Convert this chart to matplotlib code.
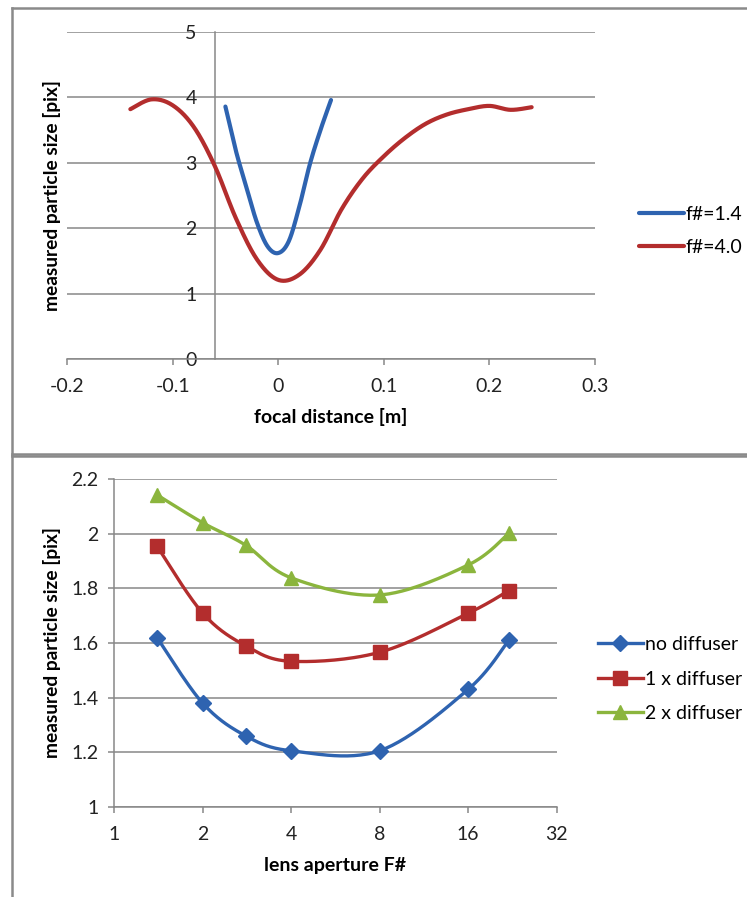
import numpy as np
import matplotlib
matplotlib.use("Agg")
import matplotlib.pyplot as plt
from matplotlib.lines import Line2D
from matplotlib.ticker import FixedLocator, FuncFormatter

plt.rcParams['font.family'] = ['Lato', 'DejaVu Sans']

# ---- focal sweep data ----
focal_f14 = [-0.05, -0.04, -0.03, -0.02, -0.01, 0.0, 0.01, 0.02, 0.03, 0.04, 0.05]
size_f14 = [3.86, 3.18, 2.62, 2.08, 1.72, 1.62, 1.80, 2.33, 2.98, 3.50, 3.96]

focal_f40 = [-0.14, -0.12, -0.10, -0.08, -0.06, -0.04, -0.02, 0.0, 0.02, 0.04,
             0.06, 0.08, 0.10, 0.12, 0.14, 0.16, 0.18, 0.20, 0.22, 0.24]
size_f40 = [3.82, 3.97, 3.88, 3.55, 2.95, 2.15, 1.52, 1.21, 1.29, 1.67,
            2.29, 2.76, 3.10, 3.38, 3.60, 3.74, 3.82, 3.87, 3.81, 3.85]

# ---- aperture sweep data ----
apertures = [1.4, 2, 2.8, 4, 8, 16, 22]
no_diffuser = [1.62, 1.38, 1.26, 1.205, 1.205, 1.43, 1.61]
one_diffuser = [1.955, 1.71, 1.59, 1.533, 1.566, 1.709, 1.792]
two_diffuser = [2.143, 2.041, 1.959, 1.839, 1.776, 1.886, 2.002]

BLUE = '#2E63B0'
RED = '#B32D2D'
GREEN = '#8BB53D'
GRID = '#878787'


def smooth(x, y, n=30):
    """Catmull-Rom style cubic Bezier smoothing through every point."""
    x = np.asarray(x, float)
    y = np.asarray(y, float)
    px = np.concatenate([[x[0]], x, [x[-1]]])
    py = np.concatenate([[y[0]], y, [y[-1]]])
    t = np.linspace(0, 1, n)[:, None]
    xs, ys = [], []
    for i in range(1, len(px) - 2):
        p0 = np.array([px[i], py[i]])
        p3 = np.array([px[i + 1], py[i + 1]])
        b1 = p0 + (p3 - np.array([px[i - 1], py[i - 1]])) / 6.0
        b2 = p3 - (np.array([px[i + 2], py[i + 2]]) - p0) / 6.0
        seg = ((1 - t) ** 3) * p0 + 3 * ((1 - t) ** 2) * t * b1 + 3 * (1 - t) * t ** 2 * b2 + t ** 3 * p3
        xs.append(seg[:, 0])
        ys.append(seg[:, 1])
    return np.concatenate(xs), np.concatenate(ys)


fig = plt.figure(figsize=(7.47, 8.97), dpi=100)
W, H = 747.0, 897.0


def fx(px):
    return px / W


def fy(py):
    return 1 - py / H


# chart frames
for line in [
    Line2D([fx(12), fx(747)], [fy(8.5), fy(8.5)]),
    Line2D([fx(12), fx(747)], [fy(453.5), fy(453.5)]),
    Line2D([fx(12), fx(747)], [fy(456), fy(456)]),
    Line2D([fx(12), fx(12)], [fy(8.5), fy(897)]),
]:
    line.set_color('#8a8a8a')
    line.set_linewidth(1.8)
    line.set_transform(fig.transFigure)
    fig.add_artist(line)

FS = 14
YLAB_FS = 13.8

# ---------------- top chart ----------------
ax1 = fig.add_axes([fx(67), fy(359), (595 - 67) / W, (359 - 32) / H])
ax1.set_xlim(-0.2, 0.3)
ax1.set_ylim(0, 5)
ax1.set_yticks([0, 1, 2, 3, 4, 5])
ax1.set_xticks([-0.2, -0.1, 0, 0.1, 0.2, 0.3])
ax1.xaxis.set_major_formatter(FuncFormatter(lambda v, p: f"{v:g}"))
ax1.grid(axis='y', color=GRID, linewidth=1.1)
ax1.set_axisbelow(True)
for s in ['top', 'right']:
    ax1.spines[s].set_visible(False)
ax1.spines['left'].set_position(('data', -0.06))
for s in ['left', 'bottom']:
    ax1.spines[s].set_color(GRID)
    ax1.spines[s].set_linewidth(1.1)
ax1.tick_params(axis='y', length=0, pad=13, labelsize=FS, colors='#222222')
ax1.tick_params(axis='x', length=4, width=1.1, color=GRID, pad=10, labelsize=FS,
                labelcolor='#222222', direction='out')

xs, ys = smooth(focal_f14, size_f14)
ax1.plot(xs, ys, color=BLUE, lw=3, solid_capstyle='round', label='f#=1.4', zorder=3)
xs, ys = smooth(focal_f40, size_f40)
ax1.plot(xs, ys, color=RED, lw=3, solid_capstyle='round', label='f#=4.0', zorder=3)

ax1.set_xlabel('focal distance [m]', fontsize=FS, fontweight='bold')
ax1.set_ylabel('measured particle size [pix]', fontsize=YLAB_FS, fontweight='bold')
ax1.xaxis.set_label_coords(0.5, (359 - 417) / 327.0)
ax1.xaxis.label.set_va('center')
ax1.yaxis.set_label_coords((52 - 67) / 528.0, 0.5)
ax1.yaxis.label.set_va('center')

ax1.legend(loc='center left', bbox_to_anchor=(fx(639), fy(231)),
           bbox_transform=fig.transFigure, frameon=False, fontsize=FS,
           handlelength=2.3, handletextpad=0.1, borderpad=0, borderaxespad=0,
           labelspacing=0.85)

# ---------------- bottom chart ----------------
ax2 = fig.add_axes([fx(114), fy(806.7), (556.7 - 114) / W, (806.7 - 479.3) / H])
ax2.set_xscale('log', base=2)
ax2.set_xlim(1, 32)
ax2.set_ylim(1, 2.2)
ax2.xaxis.set_major_locator(FixedLocator([1, 2, 4, 8, 16, 32]))
ax2.xaxis.set_minor_locator(FixedLocator([]))
ax2.xaxis.set_major_formatter(FuncFormatter(lambda v, p: f"{v:g}"))
ax2.set_yticks([1, 1.2, 1.4, 1.6, 1.8, 2.0, 2.2])
ax2.yaxis.set_major_formatter(FuncFormatter(lambda v, p: f"{v:g}"))
ax2.grid(axis='y', color=GRID, linewidth=1.1)
ax2.set_axisbelow(True)
for s in ['top', 'right']:
    ax2.spines[s].set_visible(False)
for s in ['left', 'bottom']:
    ax2.spines[s].set_color(GRID)
    ax2.spines[s].set_linewidth(1.1)
ax2.tick_params(axis='both', length=4, width=1.1, color=GRID, labelsize=FS,
                labelcolor='#222222', direction='out')
ax2.tick_params(axis='x', pad=10)
ax2.tick_params(axis='y', pad=7)

series = [
    (no_diffuser, BLUE, 'D', 8, 'no diffuser'),
    (one_diffuser, RED, 's', 10, '1 x diffuser'),
    (two_diffuser, GREEN, '^', 10, '2 x diffuser'),
]
handles = []
for vals, col, mk, ms, lab in series:
    lx, ly = smooth(np.log2(apertures), vals)
    ax2.plot(2 ** lx, ly, color=col, lw=2.4, zorder=3)
    ax2.plot(apertures, vals, linestyle='none', marker=mk, markersize=ms,
             color=col, zorder=4)
    handles.append(Line2D([], [], color=col, lw=2.4, marker=mk, markersize=ms, label=lab))

ax2.set_xlabel('lens aperture F#', fontsize=FS, fontweight='bold')
ax2.set_ylabel('measured particle size [pix]', fontsize=YLAB_FS, fontweight='bold')
ax2.xaxis.set_label_coords(0.5, (806.7 - 865) / 327.4)
ax2.xaxis.label.set_va('center')
ax2.yaxis.set_label_coords((52 - 114) / 442.7, 0.5)
ax2.yaxis.label.set_va('center')

ax2.legend(handles=handles, loc='center left', bbox_to_anchor=(fx(598), fy(679)),
           bbox_transform=fig.transFigure, frameon=False, fontsize=FS,
           handlelength=2.3, handletextpad=0.1, borderpad=0, borderaxespad=0,
           labelspacing=0.9, numpoints=1)

fig.savefig('out.png', dpi=100)
